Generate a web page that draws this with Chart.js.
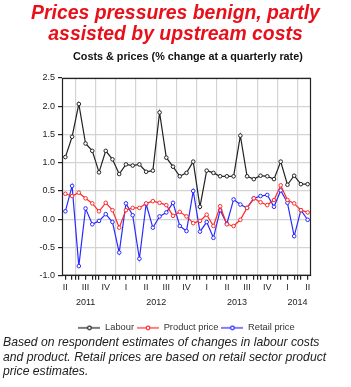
<!DOCTYPE html>
<html><head><meta charset="utf-8">
<script src="https://cdn.jsdelivr.net/npm/chart.js@4.4.1/dist/chart.umd.min.js"></script>
<style>
html,body{margin:0;padding:0;background:#fff;}
#wrap{position:relative;width:351px;height:387px;overflow:hidden;font-family:"Liberation Sans",Arial,sans-serif;}
#cv{position:absolute;left:0;top:0;width:351px;height:387px;}
#title{position:absolute;left:0;top:2px;width:351px;text-align:center;color:#e8101a;font-weight:bold;font-style:italic;font-size:19.4px;line-height:21px;z-index:2;}
#sub{position:absolute;left:73px;top:50px;white-space:nowrap;color:#111;font-weight:bold;font-size:10.8px;line-height:12px;z-index:2;}
#note{position:absolute;left:3px;top:335px;white-space:nowrap;color:#222;font-style:italic;font-size:12.2px;line-height:14.7px;z-index:2;}
</style></head>
<body>
<div id="wrap">
<canvas id="cv" width="351" height="387"></canvas>
<div id="title">Prices pressures benign, partly<br>assisted by upstream costs</div>
<div id="sub">Costs &amp; prices (% change at a quarterly rate)</div>
<div id="note">Based on respondent estimates of changes in labour costs<br>and product. Retail prices are based on retail sector product<br>price estimates.</div>
</div>
<script>
// Monthly observations, May 2011 – May 2014
const months = ["2011-05","2011-06","2011-07","2011-08","2011-09","2011-10","2011-11","2011-12",
 "2012-01","2012-02","2012-03","2012-04","2012-05","2012-06","2012-07","2012-08","2012-09","2012-10","2012-11","2012-12",
 "2013-01","2013-02","2013-03","2013-04","2013-05","2013-06","2013-07","2013-08","2013-09","2013-10","2013-11","2013-12",
 "2014-01","2014-02","2014-03","2014-04","2014-05"];
const labour = [1.10,1.46,2.04,1.34,1.21,0.83,1.21,1.06,0.80,0.97,0.95,0.97,0.84,0.86,1.89,1.09,0.93,0.76,0.82,1.02,
 0.22,0.86,0.82,0.76,0.76,0.76,1.48,0.76,0.71,0.77,0.76,0.71,1.02,0.61,0.77,0.62,0.62];
const productPrice = [0.45,0.41,0.47,0.37,0.28,0.14,0.29,0.16,-0.15,0.16,0.20,0.20,0.28,0.32,0.29,0.25,0.06,0.13,0.05,-0.07,
 -0.03,0.08,-0.12,0.23,-0.09,-0.12,-0.01,0.20,0.37,0.30,0.25,0.34,0.60,0.34,0.28,0.16,0.12];
const retailPrice = [0.14,0.59,-0.83,0.19,-0.09,-0.03,0.09,-0.05,-0.59,0.28,0.07,-0.70,0.27,-0.15,0.05,0.12,0.29,-0.12,-0.21,0.50,
 -0.22,-0.05,-0.33,0.16,-0.08,0.35,0.26,0.20,0.37,0.41,0.43,0.22,0.51,0.29,-0.30,0.16,-0.01];
const yTicks = [-1.0,-0.5,0.0,0.5,1.0,1.5,2.0,2.5];
const quarterLabels = ["II","III","IV","I","II","III","IV","I","II","III","IV","I","II"];
const yearLabels = ["2011","2012","2013","2014"];

// positions (month indices) for quarter/year labels and quarter boundaries
const quarterPos = quarterLabels.map((_, k) => k * 3);
const yearPos = [3, 13.5, 25.5, 34.5];
const boundaryPos = [];
for (let b = 1.5; b < months.length; b += 3) boundaryPos.push(b);
const monthPos = months.map((_, i) => i);

const FONT = "'Liberation Sans', Arial, sans-serif";
const toXY = arr => arr.map((v, i) => ({x: i, y: v}));

function legendIcon(color) {
  const c = document.createElement('canvas');
  c.width = 22; c.height = 6;
  const g = c.getContext('2d');
  g.strokeStyle = color; g.lineWidth = 1.2;
  g.beginPath(); g.moveTo(0, 3); g.lineTo(22, 3); g.stroke();
  g.fillStyle = '#fff';
  g.beginPath(); g.arc(11, 3, 1.8, 0, Math.PI * 2); g.fill(); g.stroke();
  return c;
}

const series = [
  {label: 'Labour', data: labour, color: '#222222'},
  {label: 'Product price', data: productPrice, color: '#ff2a2a'},
  {label: 'Retail price', data: retailPrice, color: '#2a2aff'}
];

const frame = {
  id: 'frame',
  afterLayout(chart) {
    const lg = chart.legend, a = chart.chartArea;
    if (!lg) return;
    const sh = (a.left + a.right) / 2 - (lg.left + lg.right) / 2;
    lg.left += sh; lg.right += sh;
  },
  afterDraw(chart) {
    const a = chart.chartArea, ctx = chart.ctx;
    ctx.save();
    ctx.strokeStyle = '#222'; ctx.lineWidth = 1.2;
    ctx.strokeRect(a.left + 0.5, a.top + 0.5, a.right - a.left - 1, a.bottom - a.top - 1);
    ctx.restore();
  }
};

const baseX = {type: 'linear', position: 'bottom', min: -0.5, max: months.length - 0.5};

new Chart(document.getElementById('cv'), {
  type: 'line',
  data: {
    datasets: series.map(s => ({
      label: s.label, data: toXY(s.data),
      borderColor: s.color, backgroundColor: '#fff',
      borderWidth: 1.2, pointRadius: 1.8, pointBorderWidth: 1,
      pointBackgroundColor: '#fff', pointBorderColor: s.color,
      tension: 0, fill: false
    }))
  },
  options: {
    responsive: false, animation: false,
    layout: {padding: {top: 78, left: 0, right: 40, bottom: 44.5}},
    plugins: {
      legend: {
        position: 'bottom',
        labels: {
          font: {family: FONT, size: 9.3}, color: '#333',
          usePointStyle: true, pointStyleWidth: 22, boxHeight: 6, padding: 3,
          generateLabels: chart => chart.data.datasets.map((d, i) => ({
            text: d.label, pointStyle: legendIcon(d.borderColor),
            fillStyle: d.borderColor, strokeStyle: d.borderColor, lineWidth: 0,
            datasetIndex: i, hidden: false, fontColor: '#333'
          }))
        }
      },
      tooltip: {enabled: false}
    },
    scales: {
      y: {
        min: -1, max: 2.5, weight: 0,
        afterBuildTicks: s => { s.ticks = yTicks.map(v => ({value: v})); },
        afterFit: s => { s.width = 62; },
        ticks: {font: {family: FONT, size: 9}, color: '#222', padding: 3,
          callback: v => Number(v).toFixed(1)},
        grid: {color: '#d4d4d4', lineWidth: 1.2, tickLength: 4, tickColor: '#222'},
        border: {color: '#222', width: 1}
      },
      x: Object.assign({}, baseX, {
        weight: 1,
        afterBuildTicks: s => {
          s.ticks = monthPos.map(v => ({value: v})).concat(boundaryPos.map(v => ({value: v, major: true})));
        },
        afterFit: s => { s.height = 5; },
        ticks: {display: false},
        grid: {
          lineWidth: 1.2, tickLength: 4,
          color: c => (c.tick && c.tick.major) ? '#d4d4d4' : 'rgba(0,0,0,0)',
          tickColor: '#222'
        },
        border: {color: '#222', width: 1}
      }),
      xq: Object.assign({}, baseX, {
        weight: 2,
        afterBuildTicks: s => { s.ticks = quarterPos.map(v => ({value: v})); },
        afterFit: s => { s.height = 12; },
        ticks: {font: {family: FONT, size: 9}, color: '#222', padding: 1, autoSkip: false, maxRotation: 0,
          callback: (v, i) => quarterLabels[i]},
        grid: {display: false, drawTicks: false},
        border: {display: false}
      }),
      xy: Object.assign({}, baseX, {
        weight: 3,
        afterBuildTicks: s => { s.ticks = yearPos.map(v => ({value: v})); },
        afterFit: s => { s.height = 27.5; },
        ticks: {font: {family: FONT, size: 9}, color: '#222', padding: 4, autoSkip: false, maxRotation: 0,
          callback: (v, i) => yearLabels[i]},
        grid: {display: false, drawTicks: false},
        border: {display: false}
      })
    }
  },
  plugins: [frame]
});
</script>
</body></html>
